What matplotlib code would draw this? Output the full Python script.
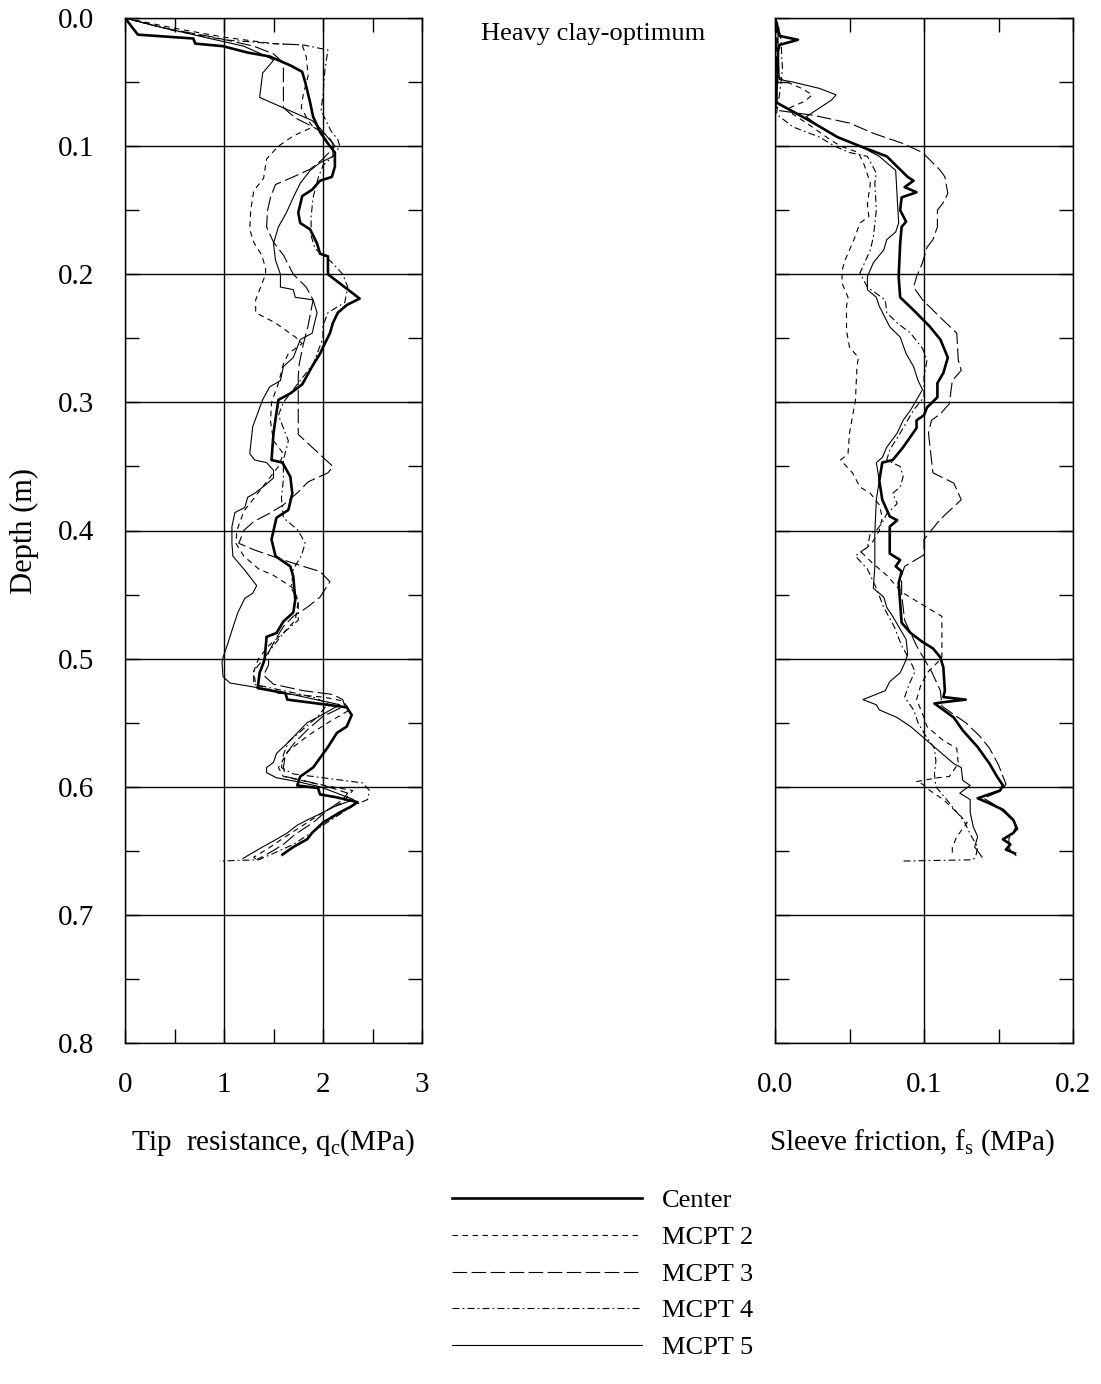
import matplotlib
matplotlib.use('Agg')
import matplotlib.pyplot as plt
import numpy as np

plt.rcParams['font.family'] = ['Liberation Serif', 'DejaVu Serif']
plt.rcParams['mathtext.fontset'] = 'custom'
plt.rcParams['mathtext.rm'] = 'Liberation Serif'
plt.rcParams['mathtext.it'] = 'Liberation Serif:italic'
plt.rcParams['lines.scale_dashes'] = False

# (depth m, tip resistance MPa)
center_qc = [(0, 0), (0.013, 0.13), (0.016, 0.69), (0.020, 0.71), (0.022, 0.99), (0.027, 1.24), (0.030, 1.46),
             (0.037, 1.67), (0.042, 1.79), (0.050, 1.82), (0.066, 1.87), (0.077, 1.90), (0.089, 1.97), (0.098, 2.05),
             (0.105, 2.12), (0.116, 2.12), (0.124, 2.09), (0.127, 1.97), (0.134, 1.89), (0.139, 1.79), (0.152, 1.75),
             (0.160, 1.77), (0.165, 1.87), (0.176, 1.94), (0.184, 1.97), (0.186, 2.05), (0.200, 2.05), (0.219, 2.37),
             (0.224, 2.24), (0.230, 2.15), (0.238, 2.10), (0.246, 2.07), (0.257, 2.00), (0.262, 1.97), (0.272, 1.89),
             (0.286, 1.79), (0.293, 1.67), (0.298, 1.55), (0.308, 1.53), (0.324, 1.50), (0.345, 1.48), (0.347, 1.59),
             (0.358, 1.67), (0.371, 1.69), (0.384, 1.65), (0.390, 1.53), (0.407, 1.48), (0.420, 1.52), (0.428, 1.67),
             (0.436, 1.70), (0.454, 1.72), (0.464, 1.70), (0.471, 1.60), (0.480, 1.53), (0.483, 1.43), (0.501, 1.41),
             (0.511, 1.36), (0.523, 1.34), (0.527, 1.62), (0.532, 1.64), (0.538, 2.24), (0.544, 2.29), (0.553, 2.24),
             (0.558, 2.14), (0.569, 2.05), (0.585, 1.90), (0.592, 1.77), (0.599, 1.74), (0.601, 1.95), (0.606, 1.97),
             (0.608, 2.12), (0.612, 2.35), (0.616, 2.27), (0.620, 2.17), (0.628, 2.00), (0.636, 1.89), (0.641, 1.84),
             (0.647, 1.70), (0.653, 1.59)]
mcpt2_qc = [(0, 0), (0.008, 0.5), (0.015, 1.0), (0.020, 1.5), (0.021, 1.79), (0.030, 1.83), (0.045, 1.85),
            (0.060, 1.80), (0.070, 1.78), (0.080, 1.85), (0.085, 1.90), (0.092, 1.70), (0.100, 1.55), (0.110, 1.43),
            (0.125, 1.40), (0.135, 1.30), (0.150, 1.27), (0.165, 1.26), (0.175, 1.30), (0.185, 1.38), (0.195, 1.42),
            (0.200, 1.42), (0.210, 1.37), (0.220, 1.32), (0.230, 1.32), (0.238, 1.52), (0.249, 1.72), (0.254, 1.79),
            (0.262, 1.65), (0.270, 1.60), (0.285, 1.55), (0.300, 1.48), (0.315, 1.47), (0.330, 1.50), (0.340, 1.60),
            (0.350, 1.55), (0.360, 1.45), (0.375, 1.30), (0.385, 1.20), (0.400, 1.13), (0.410, 1.12), (0.420, 1.20),
            (0.430, 1.35), (0.435, 1.50), (0.445, 1.70), (0.455, 1.75), (0.470, 1.72), (0.480, 1.60), (0.490, 1.45),
            (0.500, 1.35), (0.510, 1.30), (0.520, 1.32), (0.527, 1.55), (0.530, 2.00), (0.533, 2.20), (0.540, 2.27),
            (0.550, 2.05), (0.560, 1.85), (0.572, 1.65), (0.585, 1.55), (0.592, 1.60), (0.598, 1.95), (0.603, 2.30),
            (0.612, 2.20), (0.620, 2.00), (0.630, 1.80), (0.640, 1.60), (0.648, 1.45), (0.655, 1.30), (0.658, 1.35)]
mcpt3_qc = [(0, 0), (0.008, 0.4), (0.015, 0.9), (0.022, 1.3), (0.028, 1.5), (0.035, 1.6), (0.045, 1.6),
            (0.070, 1.6), (0.078, 1.72), (0.085, 1.90), (0.092, 2.05), (0.100, 2.12), (0.110, 2.00), (0.118, 1.87),
            (0.124, 1.70), (0.130, 1.52), (0.140, 1.47), (0.150, 1.44), (0.163, 1.43), (0.175, 1.50), (0.185, 1.60),
            (0.200, 1.70), (0.210, 1.83), (0.220, 1.90), (0.240, 1.85), (0.255, 1.80), (0.270, 1.76), (0.280, 1.75),
            (0.300, 1.75), (0.325, 1.75), (0.350, 2.10), (0.355, 2.05), (0.362, 1.85), (0.370, 1.75), (0.380, 1.60),
            (0.387, 1.45), (0.393, 1.30), (0.400, 1.20), (0.410, 1.15), (0.415, 1.30), (0.423, 1.60), (0.428, 1.80),
            (0.432, 1.97), (0.440, 2.07), (0.452, 1.97), (0.460, 1.84), (0.467, 1.70), (0.475, 1.60), (0.485, 1.52),
            (0.495, 1.45), (0.505, 1.45), (0.513, 1.40), (0.520, 1.50), (0.525, 1.80), (0.528, 2.10), (0.532, 2.20),
            (0.537, 2.22), (0.545, 2.00), (0.555, 1.85), (0.565, 1.72), (0.575, 1.62), (0.585, 1.60), (0.592, 1.62),
            (0.596, 1.85), (0.600, 2.05), (0.605, 2.25), (0.610, 2.20), (0.618, 2.05), (0.628, 1.90), (0.637, 1.72),
            (0.645, 1.60), (0.652, 1.45), (0.657, 1.33)]
mcpt4_qc = [(0, 0), (0.010, 0.5), (0.017, 1.0), (0.020, 1.5), (0.021, 1.8), (0.025, 2.05), (0.040, 2.02),
            (0.060, 2.00), (0.072, 1.98), (0.080, 2.03), (0.088, 2.08), (0.095, 2.15), (0.100, 2.17), (0.108, 2.10),
            (0.115, 2.00), (0.125, 1.95), (0.140, 1.90), (0.155, 1.88), (0.170, 1.88), (0.180, 1.92), (0.190, 2.08),
            (0.200, 2.20), (0.210, 2.25), (0.222, 2.22), (0.230, 2.05), (0.240, 2.00), (0.250, 2.00), (0.260, 1.95),
            (0.270, 1.90), (0.280, 1.80), (0.290, 1.70), (0.300, 1.60), (0.310, 1.55), (0.320, 1.60), (0.330, 1.65),
            (0.345, 1.60), (0.360, 1.60), (0.375, 1.58), (0.390, 1.60), (0.400, 1.75), (0.410, 1.82), (0.420, 1.78),
            (0.430, 1.70), (0.445, 1.68), (0.455, 1.75), (0.470, 1.75), (0.480, 1.60), (0.490, 1.50), (0.500, 1.40),
            (0.510, 1.30), (0.520, 1.30), (0.525, 1.60), (0.530, 1.90), (0.535, 2.05), (0.545, 1.95), (0.555, 1.80),
            (0.565, 1.65), (0.575, 1.60), (0.585, 1.58), (0.590, 1.70), (0.593, 2.00), (0.597, 2.40), (0.603, 2.47),
            (0.610, 2.45), (0.615, 2.30), (0.625, 2.10), (0.635, 1.90), (0.645, 1.70), (0.652, 1.50), (0.657, 1.35),
            (0.658, 0.95)]
mcpt5_qc = [(0, 0), (0.006, 0.3), (0.015, 0.8), (0.022, 1.2), (0.031, 1.46), (0.033, 1.50), (0.043, 1.39),
            (0.062, 1.36), (0.080, 1.89), (0.086, 1.97), (0.098, 2.10), (0.108, 2.10), (0.113, 1.97), (0.119, 1.87),
            (0.129, 1.77), (0.140, 1.70), (0.152, 1.63), (0.163, 1.55), (0.176, 1.50), (0.189, 1.52), (0.200, 1.57),
            (0.210, 1.57), (0.212, 1.70), (0.218, 1.72), (0.220, 1.90), (0.230, 1.94), (0.246, 1.89), (0.251, 1.77),
            (0.265, 1.70), (0.272, 1.60), (0.283, 1.57), (0.288, 1.46), (0.298, 1.39), (0.319, 1.29), (0.340, 1.26),
            (0.345, 1.31), (0.347, 1.43), (0.353, 1.50), (0.359, 1.50), (0.365, 1.41), (0.371, 1.31), (0.374, 1.24),
            (0.382, 1.21), (0.386, 1.11), (0.397, 1.08), (0.410, 1.08), (0.420, 1.09), (0.431, 1.21), (0.443, 1.33),
            (0.449, 1.29), (0.453, 1.21), (0.464, 1.14), (0.478, 1.08), (0.488, 1.04), (0.499, 0.99), (0.503, 0.98),
            (0.514, 0.99), (0.519, 1.06), (0.522, 1.29), (0.526, 1.57), (0.531, 1.87), (0.536, 2.17), (0.546, 1.94),
            (0.550, 1.84), (0.558, 1.74), (0.566, 1.64), (0.574, 1.53), (0.581, 1.50), (0.585, 1.43), (0.589, 1.43),
            (0.593, 1.53), (0.596, 1.74), (0.600, 1.97), (0.610, 2.31), (0.616, 2.10), (0.620, 2.00), (0.626, 1.84),
            (0.630, 1.74), (0.636, 1.64), (0.641, 1.53), (0.647, 1.39), (0.656, 1.19)]

# (depth m, sleeve friction MPa)
center_fs = [(0, 0), (0.008, 0.002), (0.014, 0.003), (0.017, 0.0154), (0.021, 0.003), (0.026, 0.002),
             (0.040, 0.002), (0.055, 0.001), (0.066, 0.001), (0.080, 0.023), (0.093, 0.042), (0.100, 0.057),
             (0.108, 0.075), (0.116, 0.082), (0.124, 0.089), (0.127, 0.093), (0.132, 0.087), (0.136, 0.095),
             (0.140, 0.085), (0.150, 0.084), (0.159, 0.088), (0.163, 0.085), (0.176, 0.084), (0.202, 0.083),
             (0.218, 0.084), (0.228, 0.093), (0.241, 0.104), (0.251, 0.111), (0.265, 0.116), (0.277, 0.113),
             (0.285, 0.109), (0.296, 0.109), (0.304, 0.102), (0.310, 0.100), (0.314, 0.095), (0.320, 0.095),
             (0.335, 0.086), (0.345, 0.079), (0.347, 0.072), (0.361, 0.070), (0.376, 0.072), (0.389, 0.077),
             (0.392, 0.082), (0.397, 0.077), (0.418, 0.077), (0.423, 0.084), (0.428, 0.081), (0.432, 0.085),
             (0.441, 0.083), (0.472, 0.085), (0.480, 0.091), (0.487, 0.099), (0.492, 0.106), (0.499, 0.111),
             (0.507, 0.113), (0.525, 0.114), (0.530, 0.113), (0.532, 0.128), (0.534, 0.113), (0.535, 0.107),
             (0.540, 0.113), (0.546, 0.120), (0.556, 0.126), (0.569, 0.136), (0.582, 0.144), (0.592, 0.149),
             (0.599, 0.153), (0.603, 0.151), (0.609, 0.136), (0.613, 0.144), (0.618, 0.153), (0.626, 0.160),
             (0.632, 0.162), (0.636, 0.160), (0.641, 0.153), (0.645, 0.158), (0.649, 0.155), (0.652, 0.161)]
mcpt2_fs = [(0, 0), (0.020, 0.002), (0.045, 0.001), (0.050, 0.008), (0.055, 0.018), (0.060, 0.025),
            (0.065, 0.020), (0.070, 0.010), (0.075, 0.012), (0.085, 0.025), (0.095, 0.037), (0.100, 0.044),
            (0.105, 0.056), (0.115, 0.060), (0.129, 0.064), (0.145, 0.062), (0.155, 0.063), (0.160, 0.057),
            (0.173, 0.053), (0.189, 0.047), (0.197, 0.045), (0.207, 0.045), (0.218, 0.049), (0.225, 0.048),
            (0.244, 0.048), (0.257, 0.050), (0.265, 0.056), (0.272, 0.055), (0.298, 0.054), (0.311, 0.052),
            (0.324, 0.050), (0.340, 0.049), (0.345, 0.044), (0.355, 0.052), (0.366, 0.057), (0.371, 0.064),
            (0.380, 0.070), (0.390, 0.072), (0.400, 0.070), (0.410, 0.065), (0.417, 0.058), (0.425, 0.065),
            (0.435, 0.075), (0.448, 0.085), (0.458, 0.099), (0.467, 0.112), (0.499, 0.112), (0.503, 0.109),
            (0.510, 0.103), (0.520, 0.098), (0.532, 0.095), (0.543, 0.099), (0.553, 0.102), (0.564, 0.113),
            (0.570, 0.122), (0.582, 0.123), (0.592, 0.117), (0.593, 0.109), (0.596, 0.095), (0.598, 0.099),
            (0.603, 0.104), (0.610, 0.113), (0.620, 0.122), (0.628, 0.129), (0.639, 0.122), (0.647, 0.119),
            (0.652, 0.119)]
mcpt3_fs = [(0, 0), (0.020, 0.001), (0.040, 0.001), (0.060, 0.0005), (0.072, 0.001), (0.076, 0.026),
            (0.082, 0.050), (0.090, 0.066), (0.098, 0.086), (0.105, 0.099), (0.119, 0.111), (0.124, 0.114),
            (0.137, 0.116), (0.144, 0.113), (0.150, 0.109), (0.163, 0.109), (0.173, 0.106), (0.179, 0.102),
            (0.191, 0.099), (0.202, 0.095), (0.210, 0.093), (0.220, 0.099), (0.236, 0.113), (0.246, 0.122),
            (0.267, 0.123), (0.275, 0.125), (0.283, 0.119), (0.301, 0.117), (0.309, 0.111), (0.314, 0.105),
            (0.324, 0.103), (0.355, 0.106), (0.363, 0.120), (0.376, 0.125), (0.389, 0.113), (0.394, 0.109),
            (0.407, 0.100), (0.419, 0.100), (0.428, 0.087), (0.435, 0.085), (0.450, 0.085), (0.470, 0.087),
            (0.490, 0.095), (0.510, 0.105), (0.525, 0.111), (0.537, 0.112), (0.542, 0.118), (0.550, 0.128),
            (0.560, 0.137), (0.570, 0.144), (0.583, 0.150), (0.598, 0.155), (0.603, 0.152), (0.609, 0.140),
            (0.613, 0.146), (0.620, 0.154), (0.628, 0.161), (0.633, 0.163), (0.640, 0.157), (0.648, 0.157),
            (0.654, 0.162)]
mcpt4_fs = [(0, 0), (0.005, 0.002), (0.017, 0.004), (0.040, 0.005), (0.060, 0.003), (0.075, 0.001),
            (0.085, 0.012), (0.093, 0.030), (0.100, 0.040), (0.105, 0.050), (0.108, 0.062), (0.121, 0.068),
            (0.129, 0.067), (0.150, 0.068), (0.171, 0.066), (0.181, 0.064), (0.194, 0.059), (0.199, 0.057),
            (0.210, 0.062), (0.220, 0.074), (0.230, 0.075), (0.238, 0.082), (0.246, 0.091), (0.258, 0.099),
            (0.267, 0.102), (0.280, 0.100), (0.296, 0.100), (0.306, 0.093), (0.316, 0.088), (0.326, 0.083),
            (0.337, 0.077), (0.345, 0.075), (0.350, 0.084), (0.358, 0.086), (0.366, 0.084), (0.371, 0.079),
            (0.379, 0.082), (0.387, 0.075), (0.394, 0.072), (0.400, 0.068), (0.402, 0.064), (0.413, 0.062),
            (0.418, 0.056), (0.420, 0.054), (0.430, 0.062), (0.445, 0.068), (0.460, 0.073), (0.475, 0.080),
            (0.490, 0.085), (0.500, 0.090), (0.510, 0.094), (0.520, 0.090), (0.530, 0.087), (0.540, 0.093),
            (0.550, 0.096), (0.560, 0.101), (0.570, 0.107), (0.580, 0.108), (0.590, 0.107), (0.600, 0.108),
            (0.607, 0.113), (0.617, 0.120), (0.627, 0.127), (0.637, 0.131), (0.647, 0.136), (0.653, 0.135),
            (0.657, 0.133), (0.658, 0.086)]
mcpt5_fs = [(0, 0), (0.010, 0.002), (0.030, 0.002), (0.048, 0.003), (0.050, 0.012), (0.055, 0.030),
            (0.060, 0.041), (0.064, 0.038), (0.077, 0.021), (0.085, 0.030), (0.093, 0.042), (0.100, 0.057),
            (0.108, 0.070), (0.119, 0.081), (0.140, 0.082), (0.160, 0.083), (0.167, 0.081), (0.173, 0.075),
            (0.181, 0.073), (0.191, 0.066), (0.202, 0.062), (0.212, 0.062), (0.218, 0.068), (0.225, 0.070),
            (0.241, 0.077), (0.249, 0.084), (0.262, 0.088), (0.272, 0.093), (0.283, 0.096), (0.290, 0.099),
            (0.296, 0.096), (0.306, 0.091), (0.314, 0.086), (0.324, 0.082), (0.335, 0.075), (0.343, 0.072),
            (0.347, 0.068), (0.361, 0.070), (0.376, 0.068), (0.402, 0.067), (0.428, 0.067), (0.445, 0.066),
            (0.452, 0.073), (0.460, 0.075), (0.467, 0.079), (0.477, 0.084), (0.485, 0.088), (0.496, 0.089),
            (0.501, 0.088), (0.511, 0.084), (0.518, 0.077), (0.525, 0.074), (0.532, 0.059), (0.536, 0.068),
            (0.540, 0.070), (0.546, 0.082), (0.553, 0.091), (0.562, 0.100), (0.571, 0.109), (0.582, 0.120),
            (0.585, 0.125), (0.595, 0.126), (0.599, 0.131), (0.605, 0.124), (0.610, 0.131), (0.620, 0.131),
            (0.631, 0.133), (0.639, 0.136), (0.647, 0.134), (0.655, 0.139)]

labels = ['Center', 'MCPT 2', 'MCPT 3', 'MCPT 4', 'MCPT 5']
styles = [dict(color='black', lw=1.9, ls='-'),
          dict(color='black', lw=0.8, ls=(0, (4.0, 3.2))),
          dict(color='black', lw=0.8, ls=(0, (10.5, 3.2))),
          dict(color='black', lw=0.8, ls=(0, (5.0, 2.3, 1.2, 2.3))),
          dict(color='black', lw=0.8, ls='-')]
qc_series = [center_qc, mcpt2_qc, mcpt3_qc, mcpt4_qc, mcpt5_qc]
fs_series = [center_fs, mcpt2_fs, mcpt3_fs, mcpt4_fs, mcpt5_fs]

fig = plt.figure(figsize=(11.01, 13.84), dpi=100)
ax1 = fig.add_axes([125/1101, 1-1043/1384, 297/1101, 1025/1384])
ax2 = fig.add_axes([775/1101, 1-1043/1384, 298/1101, 1025/1384])

for i, (lab, st) in enumerate(zip(labels, styles)):
    z = 6 if i == 0 else 5 - i
    d, v = zip(*qc_series[i])
    ax1.plot(v, d, label=lab, zorder=z, **st)
    d, v = zip(*fs_series[i])
    ax2.plot(v, d, zorder=z, **st)

for ax in (ax1, ax2):
    ax.set_ylim(0.8, 0.0)
    ax.set_yticks(np.arange(0, 0.81, 0.1))
    ax.set_yticks(np.arange(0.05, 0.8, 0.1), minor=True)
    ax.tick_params(which='both', direction='in', top=True, right=True, length=10, width=1)
    ax.tick_params(axis='both', which='major', labelsize=21)
    ax.tick_params(axis='x', pad=21)
    ax.grid(True, which='major', color='black', lw=1.0)
    for s in ax.spines.values():
        s.set_linewidth(1.0)

ax1.set_xlim(0, 3)
ax1.set_xticks([0, 1, 2, 3])
ax1.set_xticks([0.5, 1.5, 2.5], minor=True)
ax1.set_yticklabels(['0.0', '0.1', '0.2', '0.3', '0.4', '0.5', '0.6', '0.7', '0.8'])
ax1.tick_params(axis='y', pad=22)
ax1.set_ylabel('Depth (m)', fontsize=22)
ax1.yaxis.set_label_coords(-0.29, 0.5)
ax1.set_xlabel('Tip  resistance, q$_\\mathrm{c}$(MPa)', fontsize=21)
ax1.xaxis.set_label_coords(0.5, -0.082)

ax2.set_xlim(0, 0.2)
ax2.set_xticks([0.0, 0.1, 0.2])
ax2.set_xticklabels(['0.0', '0.1', '0.2'])
ax2.set_xticks([0.05, 0.15], minor=True)
ax2.tick_params(axis='y', labelleft=False)
ax2.set_xlabel('Sleeve friction, f$_\\mathrm{s}$ (MPa)', fontsize=21)
ax2.xaxis.set_label_coords(0.46, -0.082)

fig.text(593/1101, 1-34/1384, 'Heavy clay-optimum', ha='center', va='center', fontsize=19)

fig.legend(loc='upper left', bbox_to_anchor=(452/1101, 1-1189/1384), frameon=False, fontsize=19,
           handlelength=7.2, handletextpad=0.75, labelspacing=0.5, borderpad=0, borderaxespad=0)

fig.savefig('out.png', dpi=100)
